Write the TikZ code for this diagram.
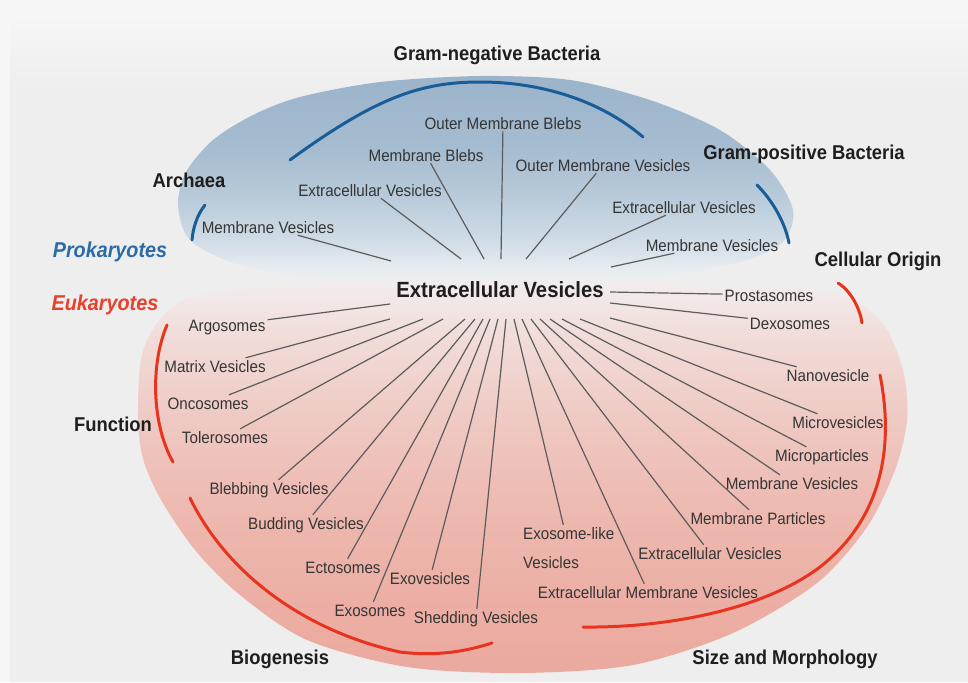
\documentclass[tikz,border=0pt]{standalone}
\usepackage{fontspec}
\setmainfont[FakeStretch=0.92]{Liberation Sans}

\definecolor{pageGray}{HTML}{F6F6F6}
\definecolor{panelGray}{HTML}{EEEEEE}
\definecolor{labelGray}{HTML}{353535}
\definecolor{headGray}{HTML}{1E1E1E}
\definecolor{spokeGray}{HTML}{5C5C5C}
\definecolor{proBlue}{HTML}{2B6BA8}
\definecolor{arcBlue}{HTML}{1A5C98}
\definecolor{eukRed}{HTML}{E8402A}
\definecolor{arcRed}{HTML}{E8341F}
\definecolor{blueA}{HTML}{EBEEF1}
\definecolor{blueB}{HTML}{E0E7EE}
\definecolor{blueC}{HTML}{D1DDE7}
\definecolor{blueD}{HTML}{B9CBDA}
\definecolor{blueE}{HTML}{A6BCD0}
\definecolor{blueF}{HTML}{9BB4CB}
\definecolor{pinkA}{HTML}{EBA99E}
\definecolor{pinkB}{HTML}{ECAFA5}
\definecolor{pinkC}{HTML}{EDB8AF}
\definecolor{pinkD}{HTML}{EFC8C2}
\definecolor{pinkE}{HTML}{F1DCD8}
\definecolor{pinkF}{HTML}{F2E8E8}
\definecolor{pinkG}{HTML}{F2EDED}

\pgfdeclareverticalshading{blueFade}{100bp}{color(0bp)=(panelGray); color(25bp)=(panelGray);
  color(30bp)=(blueA); color(33bp)=(blueB); color(37bp)=(blueC); color(47bp)=(blueD);
  color(58bp)=(blueE); color(75bp)=(blueF); color(100bp)=(blueF)}
\pgfdeclareverticalshading{pinkFade}{100bp}{color(0bp)=(pinkA); color(25bp)=(pinkA);
  color(35bp)=(pinkB); color(45bp)=(pinkC); color(57bp)=(pinkD); color(68bp)=(pinkE);
  color(73bp)=(pinkF); color(75bp)=(pinkG); color(100bp)=(pinkG)}

\begin{document}
\begin{tikzpicture}[x=1pt,y=-1pt,
    lbl/.style = {font=\fontsize{16.5}{20}\selectfont,text=labelGray,inner sep=2pt,text height=12pt,text depth=0pt},
    grp/.style = {font=\bfseries\fontsize{20}{24}\selectfont,text=headGray,inner sep=2pt,text height=14.5pt,text depth=0pt},
    hub/.style = {grp,font=\bfseries\fontsize{22}{26}\selectfont,text height=16pt},
    kingdom/.style = {grp,font=\bfseries\itshape\fontsize{21.5}{26}\selectfont,text height=15.5pt},
    spoke/.style = {draw=spokeGray,line width=1.2pt},
    bluearc/.style = {draw=arcBlue,line width=3pt,line cap=round},
    redarc/.style = {draw=arcRed,line width=3pt,line cap=round}]
\useasboundingbox (0,0) rectangle (968,682);
\fill[pageGray] (0,0) rectangle (968,682);
\fill[panelGray] (10,14) rectangle (968,682);
\shade[top color=pageGray,bottom color=panelGray] (10,14) rectangle (968,90);

\begin{scope}
  \clip plot[smooth cycle] coordinates {(178,205) (186,172) (213,140) (253,115) (300,97) (380,82)
    (480,76) (570,80) (650,100) (720,130) (770,170) (793,210) (783,242) (740,262) (640,280)
    (490,290) (340,283) (240,265) (190,240)};
  \shade[shading=blueFade] (170,75) rectangle (800,295);
\end{scope}
\begin{scope}
  \clip plot[smooth cycle] coordinates {(300,285) (500,282) (700,285) (830,293) (880,320) (903,370)
    (907,420) (895,470) (867,527) (817,583) (733,633) (633,665) (520,673) (407,667) (307,640)
    (240,595) (195,550) (160,498) (142,455) (138,405) (145,345) (185,300)};
  \shade[shading=pinkFade] (130,282) rectangle (915,675);
\end{scope}

\draw[bluearc] (290,160) .. controls (375,98) and (420,82) .. (480,82) .. controls (540,82) and (600,100) .. (643,137);
\draw[bluearc] (205,205) .. controls (197,215) and (193,228) .. (192,240);
\draw[bluearc] (757,185) .. controls (772,200) and (785,222) .. (789,243);
\draw[redarc] (838,283) .. controls (850,290) and (860,308) .. (862,323);
\draw[redarc] (167,325) .. controls (150,365) and (152,425) .. (173,462);
\draw[redarc] (880,375) .. controls (895,450) and (880,520) .. (820,567) .. controls (760,612) and (660,628) .. (583,627);
\draw[redarc] (190,498) .. controls (225,570) and (300,630) .. (400,652) .. controls (440,657) and (470,650) .. (492,643);

\node[grp] (gneg) at (497,53) {Gram-negative Bacteria};
\node[grp] (gpos) at (804,152) {Gram-positive Bacteria};
\node[grp] (arch) at (189,180) {Archaea};
\node[grp] (cell) at (878,259) {Cellular Origin};
\node[grp] (func) at (113,424) {Function};
\node[grp] (biog) at (280,657) {Biogenesis};
\node[grp] (size) at (785,657) {Size and Morphology};
\node[kingdom,text=proBlue] (prok) at (110,250) {Prokaryotes};
\node[kingdom,text=eukRed] (euk) at (105,303) {Eukaryotes};
\node[hub] (ev) at (500,289) {Extracellular Vesicles};

\node[lbl] (omb) at (503,123) {Outer Membrane Blebs};
\node[lbl] (mb) at (426,155) {Membrane Blebs};
\node[lbl] (omv) at (603,165) {Outer Membrane Vesicles};
\node[lbl] (evl) at (370,190) {Extracellular Vesicles};
\node[lbl] (evr) at (684,207) {Extracellular Vesicles};
\node[lbl] (mvl) at (268,227) {Membrane Vesicles};
\node[lbl] (mvr) at (712,245) {Membrane Vesicles};
\node[lbl] (argo) at (227,325) {Argosomes};
\node[lbl] (matv) at (215,366) {Matrix Vesicles};
\node[lbl] (onco) at (208,403) {Oncosomes};
\node[lbl] (tole) at (225,437) {Tolerosomes};
\node[lbl] (bleb) at (269,488) {Blebbing Vesicles};
\node[lbl] (bud) at (306,523) {Budding Vesicles};
\node[lbl] (ecto) at (343,567) {Ectosomes};
\node[lbl] (exos) at (370,610) {Exosomes};
\node[lbl] (exov) at (430,578) {Exovesicles};
\node[lbl] (shed) at (476,617) {Shedding Vesicles};
\node[lbl,align=left,font=\fontsize{16.5}{29}\selectfont,text height=41pt,anchor=west] (exol) at (521,547.5) {Exosome-like\\Vesicles};
\node[lbl] (emv) at (648,592) {Extracellular Membrane Vesicles};
\node[lbl] (evb) at (710,553) {Extracellular Vesicles};
\node[lbl] (mpart) at (758,518) {Membrane Particles};
\node[lbl] (mvb) at (792,483) {Membrane Vesicles};
\node[lbl] (mpar) at (822,455) {Microparticles};
\node[lbl] (mves) at (838,422) {Microvesicles};
\node[lbl] (nano) at (828,375) {Nanovesicle};
\node[lbl] (pros) at (769,295) {Prostasomes};
\node[lbl] (dex) at (790,323) {Dexosomes};

\foreach \x/\y/\n in {391/261/mvl,461/259/evl,484/259/mb,501/259/omb,526/259/omv,569/259/evr,611/267/mvr,
    390/304/argo,610/292/pros,610/303/dex,610/318/nano}
  {\coordinate (h-\n) at (\x,\y); \draw[spoke] (h-\n) -- (\n);}
\foreach \x/\n in {390/matv,423/onco,443/tole,465/bleb,475/bud,483/ecto,490/exos,498/exov,506/shed,
    514/exol,522/emv,531/evb,540/mpart,550/mvb,562/mpar,580/mves}
  {\coordinate (h-\n) at (\x,319); \draw[spoke] (h-\n) -- (\n);}
\end{tikzpicture}
\end{document}
